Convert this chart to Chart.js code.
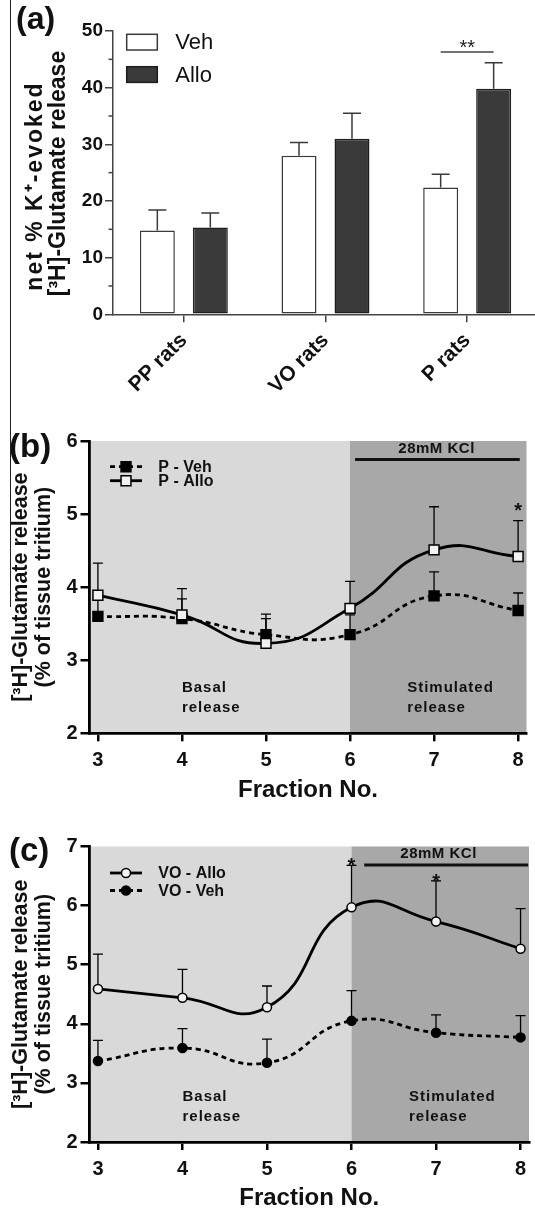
<!DOCTYPE html>
<html>
<head>
<meta charset="utf-8">
<script src="https://cdn.jsdelivr.net/npm/chart.js@4.4.1/dist/chart.umd.min.js"></script>
<style>
  html, body { margin: 0; padding: 0; background: #fff; overflow: hidden; width: 535px; height: 1211px; }
  canvas { position: absolute; left: 0; }
  #edge { position: absolute; left: 10px; top: 0; width: 0; height: 607px; border-left: 1.5px solid #222; z-index: 2; }
</style>
</head>
<body>
<div id="edge"></div>
<canvas id="chartA" width="538" height="400" style="top:0"></canvas>
<canvas id="chartB" width="535" height="410" style="top:400px"></canvas>
<canvas id="chartC" width="535" height="401" style="top:810px"></canvas>
<script>
//----- Data -----//

// (a) net K+-evoked release, mean and SEM
const groups = ['PP rats', 'VO rats', 'P rats']
const vehA = [14.8, 28.0, 22.4]
const vehAErr = [3.6, 2.3, 2.3]
const alloA = [15.3, 31.0, 39.8]
const alloAErr = [2.6, 4.5, 4.6]
const yTicksA = [0, 10, 20, 30, 40, 50]
const yMinorA = [5, 15, 25, 35, 45]

// (b) and (c) release per fraction
const fractions = [3, 4, 5, 6, 7, 8]
const pVeh = [3.60, 3.57, 3.35, 3.35, 3.88, 3.68]
const pVehErr = [0.26, 0.27, 0.22, 0.27, 0.33, 0.24]
const pAllo = [3.89, 3.62, 3.23, 3.71, 4.51, 4.42]
const pAlloErr = [0.44, 0.36, 0.40, 0.37, 0.59, 0.49]
const yTicksB = [2, 3, 4, 5, 6]

const voAllo = [4.59, 4.44, 4.28, 5.97, 5.73, 5.27]
const voAlloErr = [0.59, 0.48, 0.36, 0.71, 0.69, 0.68]
const voVeh = [3.37, 3.59, 3.34, 4.05, 3.85, 3.77]
const voVehErr = [0.35, 0.33, 0.40, 0.51, 0.30, 0.37]
const yTicksC = [2, 3, 4, 5, 6, 7]

const FONT = "'Liberation Sans', Arial, Helvetica, sans-serif"
Chart.defaults.font.family = FONT
Chart.defaults.color = '#111'

//----- Plugins -----//

const errorBars = {
  id: 'errorBars',
  beforeDatasetsDraw(chart, args, o) {
    const ctx = chart.ctx
    const y = chart.scales.y
    ctx.save()
    ctx.strokeStyle = o.color
    ctx.lineWidth = o.width
    chart.data.datasets.forEach((ds, di) => {
      if (!ds.errs) return
      chart.getDatasetMeta(di).data.forEach((el, i) => {
        if (!ds.errs[i]) return
        const d = ds.data[i]
        const v = typeof d === 'number' ? d : d.y
        const top = y.getPixelForValue(v + ds.errs[i])
        ctx.beginPath()
        ctx.moveTo(el.x, el.y)
        ctx.lineTo(el.x, top)
        ctx.moveTo(el.x - o.cap, top)
        ctx.lineTo(el.x + o.cap, top)
        ctx.stroke()
      })
    })
    ctx.restore()
  }
}

const panelLabel = {
  id: 'panelLabel',
  afterDraw(chart, args, o) {
    const ctx = chart.ctx
    ctx.save()
    ctx.fillStyle = '#111'
    ctx.font = 'bold ' + o.size + 'px ' + FONT
    ctx.textBaseline = 'middle'
    ctx.fillText(o.text, o.x, o.y)
    ctx.restore()
  }
}

// rotated two-line axis title for (a)
const sideTitle = {
  id: 'sideTitle',
  afterDraw(chart, args, o) {
    const ctx = chart.ctx
    ctx.save()
    ctx.fillStyle = '#111'
    ctx.textAlign = 'center'
    ctx.textBaseline = 'middle'
    o.lines.forEach(l => {
      ctx.save()
      ctx.font = 'bold ' + o.size + 'px ' + FONT
      ctx.letterSpacing = l.spacing + 'px'
      ctx.translate(l.x, l.y)
      ctx.rotate(-Math.PI / 2)
      ctx.fillText(l.text, 0, 0)
      ctx.restore()
    })
    ctx.restore()
  }
}

const barExtras = {
  id: 'barExtras',
  afterDraw(chart, args, o) {
    const {ctx, chartArea: a, scales: {y}} = chart
    ctx.save()
    // minor ticks
    ctx.strokeStyle = '#444'
    ctx.lineWidth = 1.5
    yMinorA.forEach(v => {
      const py = y.getPixelForValue(v)
      ctx.beginPath()
      ctx.moveTo(a.left - 4.5, py)
      ctx.lineTo(a.left, py)
      ctx.stroke()
    })
    // legend
    chart.data.datasets.forEach((ds, i) => {
      const ty = o.legend.y + i * o.legend.step
      ctx.fillStyle = ds.backgroundColor
      ctx.strokeStyle = ds.borderColor
      ctx.lineWidth = 1.5
      ctx.fillRect(o.legend.x, ty, o.legend.w, o.legend.h)
      ctx.strokeRect(o.legend.x, ty, o.legend.w, o.legend.h)
      ctx.fillStyle = '#111'
      ctx.font = '22px ' + FONT
      ctx.textBaseline = 'middle'
      ctx.fillText(ds.label, o.legend.x + o.legend.w + 18, ty + o.legend.h / 2 + 1)
    })
    // significance bracket
    const i = o.sig.index
    const x0 = chart.getDatasetMeta(0).data[i].x
    const x1 = chart.getDatasetMeta(1).data[i].x
    const ly = y.getPixelForValue(o.sig.line)
    ctx.strokeStyle = '#444'
    ctx.lineWidth = 1.5
    ctx.beginPath()
    ctx.moveTo(x0, ly)
    ctx.lineTo(x1, ly)
    ctx.stroke()
    ctx.fillStyle = '#222'
    ctx.font = '20px ' + FONT
    ctx.textAlign = 'center'
    ctx.textBaseline = 'alphabetic'
    ctx.fillText(o.sig.text, (x0 + x1) / 2, y.getPixelForValue(o.sig.mark) + 11.4)
    ctx.restore()
  }
}

const phases = {
  id: 'phases',
  beforeDraw(chart, args, o) {
    const {ctx, chartArea: a, scales: {x}} = chart
    const split = x.getPixelForValue(o.split)
    ctx.save()
    ctx.fillStyle = o.basal
    ctx.fillRect(a.left, a.top, split - a.left, a.bottom - a.top)
    ctx.fillStyle = o.stim
    ctx.fillRect(split, a.top, a.right - split, a.bottom - a.top)
    ctx.restore()
  }
}

const notes = {
  id: 'notes',
  afterDraw(chart, args, o) {
    const {ctx, chartArea: a, scales: {x, y}} = chart
    ctx.save()
    ctx.fillStyle = '#111'
    ctx.strokeStyle = '#111'

    // KCl bar
    const k0 = x.getPixelForValue(o.kcl[0])
    const k1 = x.getPixelForValue(o.kcl[1])
    ctx.lineWidth = 2.8
    ctx.beginPath()
    ctx.moveTo(k0, a.top + 18.5)
    ctx.lineTo(k1, a.top + 18.5)
    ctx.stroke()
    ctx.font = 'bold 15px ' + FONT
    ctx.letterSpacing = '0.5px'
    ctx.textAlign = 'center'
    ctx.textBaseline = 'middle'
    ctx.fillText('28mM KCl', x.getPixelForValue(o.kclText), a.top + 7.5)

    // phase captions
    ctx.letterSpacing = '1px'
    ctx.textAlign = 'left'
    ctx.fillText('Basal', x.getPixelForValue(o.basalAt), a.bottom - 45.5)
    ctx.fillText('release', x.getPixelForValue(o.basalAt), a.bottom - 25.5)
    ctx.fillText('Stimulated', x.getPixelForValue(o.stimAt), a.bottom - 45.5)
    ctx.fillText('release', x.getPixelForValue(o.stimAt), a.bottom - 25.5)
    ctx.letterSpacing = '0px'

    // stars
    ctx.font = 'bold 20px ' + FONT
    ctx.textAlign = 'center'
    ctx.textBaseline = 'alphabetic'
    o.stars.forEach(s => {
      ctx.fillText('*', x.getPixelForValue(s.x), y.getPixelForValue(s.y) + 11.6)
    })

    // legend
    chart.data.datasets.forEach((ds, i) => {
      const ly = o.legend.y + i * o.legend.step
      const lx = o.legend.x
      ctx.strokeStyle = ds.borderColor
      ctx.lineWidth = ds.borderWidth
      ctx.setLineDash(ds.borderDash || [])
      ctx.beginPath()
      ctx.moveTo(lx - 16, ly)
      ctx.lineTo(lx + 16, ly)
      ctx.stroke()
      ctx.setLineDash([])
      ctx.fillStyle = ds.pointBackgroundColor
      ctx.strokeStyle = ds.pointBorderColor
      ctx.lineWidth = ds.pointBorderWidth
      Chart.helpers.drawPoint(ctx, {pointStyle: ds.pointStyle, radius: ds.pointRadius, borderWidth: ds.pointBorderWidth, rotation: 0}, lx, ly)
      ctx.fillStyle = '#111'
      ctx.font = 'bold 16px ' + FONT
      ctx.textAlign = 'left'
      ctx.textBaseline = 'middle'
      ctx.fillText(ds.label, o.legend.textX, ly + 1)
    })
    ctx.restore()
  }
}

//----- Chart (a) -----//

new Chart(document.getElementById('chartA'), {
  type: 'bar',
  data: {
    labels: groups,
    datasets: [
      { label: 'Veh', data: vehA, errs: vehAErr, backgroundColor: '#ffffff', borderColor: '#3a3a3a', borderWidth: 1.5, borderSkipped: false, categoryPercentage: 0.748, barPercentage: 0.66 },
      { label: 'Allo', data: alloA, errs: alloAErr, backgroundColor: '#3a3a3a', borderColor: '#1e1e1e', borderWidth: 1.5, borderSkipped: false, categoryPercentage: 0.748, barPercentage: 0.66 }
    ]
  },
  options: {
    responsive: false,
    animation: false,
    layout: { padding: { top: 31, right: 0, bottom: 0, left: 0 } },
    plugins: {
      legend: { display: false },
      tooltip: { enabled: false },
      errorBars: { color: '#3a3a3a', width: 1.5, cap: 9 },
      panelLabel: { text: '(a)', x: 16, y: 20, size: 32 },
      sideTitle: {
        size: 23,
        lines: [
          { text: 'net % K\u207A-evoked', x: 36, y: 186, spacing: 2 },
          { text: '[\u00B3H]-Glutamate release', x: 58.5, y: 173.5, spacing: 0 }
        ]
      },
      barExtras: {
        legend: { x: 126.7, y: 34.3, w: 30.6, h: 15.7, step: 32.4 },
        sig: { index: 2, line: 46.3, mark: 47.9, text: '**' }
      }
    },
    scales: {
      x: {
        grid: { offset: false, drawOnChartArea: false, tickLength: 8, color: '#444', lineWidth: 1.5 },
        border: { color: '#444', width: 1.5 },
        ticks: { minRotation: 45, maxRotation: 45, font: { size: 21, weight: 'bold' }, padding: 6 },
        afterFit: s => { s.height = 85.7 }
      },
      y: {
        min: 0,
        max: 50,
        afterBuildTicks: s => { s.ticks = yTicksA.map(v => ({ value: v })) },
        grid: { drawOnChartArea: false, tickLength: 8, color: '#444', lineWidth: 1.5 },
        border: { color: '#444', width: 1.5 },
        ticks: { font: { size: 19, weight: 'bold' }, padding: 2 },
        afterFit: s => { s.width = 113 }
      }
    }
  },
  plugins: [errorBars, barExtras, sideTitle, panelLabel]
})

//----- Charts (b) and (c) -----//

function lineSet(label, values, errs, filled, style, dashed, order) {
  return {
    label: label,
    data: fractions.map((f, i) => ({ x: f, y: values[i] })),
    errs: errs,
    order: order,
    borderColor: '#000',
    borderWidth: 2.8,
    borderDash: dashed ? [5, 4] : [],
    tension: 0.5,
    fill: false,
    pointStyle: style,
    pointRadius: style === 'rect' ? 7 : 4.5,
    pointBackgroundColor: filled ? '#000' : '#f2f2f2',
    pointBorderColor: '#000',
    pointBorderWidth: 1.5
  }
}

function lineOptions(opts) {
  return {
    responsive: false,
    animation: false,
    layout: { padding: { top: opts.top, right: 4.5, bottom: 0, left: 0 } },
    plugins: {
      legend: { display: false },
      tooltip: { enabled: false },
      errorBars: { color: '#000', width: 1.3, cap: 5 },
      phases: { split: 6, basal: '#d9d9d9', stim: '#a8a8a8' },
      panelLabel: { text: opts.label, x: 9, y: opts.labelY, size: 33 },
      notes: {
        kcl: opts.kcl, kclText: 7.03, basalAt: 4.0, stimAt: 6.68,
        stars: opts.stars,
        legend: { x: 126, y: opts.legendY, step: opts.legendStep, textX: 158.3 }
      }
    },
    scales: {
      x: {
        type: 'linear',
        min: 2.9,
        max: 8.1,
        afterBuildTicks: s => { s.ticks = fractions.map(v => ({ value: v })) },
        grid: { drawOnChartArea: false, tickLength: 8, color: '#000', lineWidth: 2.5 },
        border: { color: '#000', width: 2.8 },
        ticks: { font: { size: 20, weight: 'bold' }, padding: 7 },
        title: { display: true, text: 'Fraction No.', font: { size: 24, weight: 'bold', lineHeight: 1 }, padding: { top: 0, bottom: opts.titleBottom } },
        afterFit: s => { s.height = opts.xHeight }
      },
      y: {
        min: opts.yTicks[0],
        max: opts.yTicks[opts.yTicks.length - 1],
        afterBuildTicks: s => { s.ticks = opts.yTicks.map(v => ({ value: v })) },
        grid: { drawOnChartArea: false, tickLength: 9, color: '#000', lineWidth: 2.5 },
        border: { color: '#000', width: 2.8 },
        ticks: { font: { size: 20, weight: 'bold' }, padding: 3 },
        title: {
          display: true,
          text: ['[\u00B3H]-Glutamate release', '(% of tissue tritium)'],
          font: { size: 21.5, weight: 'bold', lineHeight: 1.1 },
          padding: { top: 9, bottom: 0 }
        },
        afterFit: s => { s.width = 89.5 }
      }
    }
  }
}

new Chart(document.getElementById('chartB'), {
  type: 'line',
  data: {
    datasets: [
      lineSet('P - Veh', pVeh, pVehErr, true, 'rect', true, 1),
      lineSet('P - Allo', pAllo, pAlloErr, false, 'rect', false, 0)
    ]
  },
  options: lineOptions({
    top: 41, xHeight: 76.7, titleBottom: 8, yTicks: yTicksB,
    label: '(b)', labelY: 47.7,
    kcl: [6.06, 8.02],
    stars: [{ x: 8, y: 5.12 }],
    legendY: 66.7, legendStep: 14
  }),
  plugins: [phases, errorBars, notes, panelLabel]
})

new Chart(document.getElementById('chartC'), {
  type: 'line',
  data: {
    datasets: [
      lineSet('VO - Allo', voAllo, voAlloErr, false, 'circle', false, 0),
      lineSet('VO - Veh', voVeh, voVehErr, true, 'circle', true, 1)
    ]
  },
  options: lineOptions({
    top: 36.5, xHeight: 69, titleBottom: 0.5, yTicks: yTicksC,
    label: '(c)', labelY: 41.7,
    kcl: [6.15, 8.09],
    stars: [{ x: 6, y: 6.77 }, { x: 7, y: 6.49 }],
    legendY: 63, legendStep: 17.5
  }),
  plugins: [phases, errorBars, notes, panelLabel]
})
</script>
</body>
</html>
